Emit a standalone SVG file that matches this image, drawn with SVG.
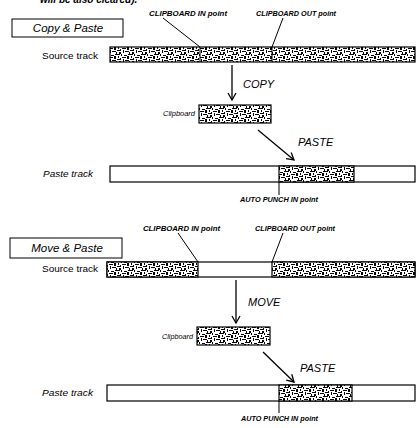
<svg xmlns="http://www.w3.org/2000/svg" width="417" height="428" viewBox="0 0 417 428">
<style>
text{font-family:"Liberation Sans",Arial,sans-serif;fill:#000}
.top{font-size:10px;font-style:italic;font-weight:bold}
.title{font-size:11.5px;font-style:italic}
.pt{font-size:7px;font-style:italic;font-weight:bold}
.lbl{font-size:9.5px}
.ilbl{font-size:9.5px;font-style:italic}
.op{font-size:11px;font-style:italic}
.clip{font-size:6.5px;font-style:italic}
.box{fill:#fff;stroke:#000;stroke-width:1}
.bar{fill:#fff;stroke:#000;stroke-width:1.2}
.hat{fill:url(#noise);stroke:#000;stroke-width:1.2}
.ln{stroke:#000;stroke-width:1;fill:none}
.arr{stroke:#000;stroke-width:1.3;fill:none;marker-end:url(#ah)}
</style>
<defs>
<pattern id="noise" width="13" height="9" patternUnits="userSpaceOnUse">
<rect width="13" height="9" fill="#fff"/>
<rect x="0" y="0" width="3" height="1" fill="#000"/>
<rect x="4" y="0" width="1" height="2" fill="#000"/>
<rect x="7" y="1" width="3" height="1" fill="#000"/>
<rect x="1" y="2" width="1" height="2" fill="#000"/>
<rect x="5" y="3" width="4" height="1" fill="#000"/>
<rect x="10" y="2" width="2" height="3" fill="#000"/>
<rect x="0" y="5" width="4" height="1" fill="#000"/>
<rect x="6" y="5" width="1" height="3" fill="#000"/>
<rect x="8" y="6" width="4" height="1" fill="#000"/>
<rect x="2" y="7" width="2" height="2" fill="#000"/>
<rect x="11" y="0" width="2" height="1" fill="#000"/>
<rect x="12" y="7" width="1" height="2" fill="#000"/>
<rect x="3" y="4" width="1" height="1" fill="#000"/>
</pattern>
<marker id="ah" markerWidth="10" markerHeight="10" refX="8" refY="5" orient="auto" markerUnits="userSpaceOnUse">
<path d="M1,1 L8,5 L1,9" fill="none" stroke="#000" stroke-width="1.3"/>
</marker>
</defs>

<text class="top" x="40" y="3">will be also cleared).</text>

<g id="copy-title"><rect class="box" x="12" y="19" width="111" height="18"/><text class="title" x="68" y="32" text-anchor="middle">Copy &amp; Paste</text></g>

<g id="copy-labels">
<text class="pt" x="149" y="16" textLength="78" lengthAdjust="spacingAndGlyphs">CLIPBOARD IN point</text>
<text class="pt" x="256" y="16" textLength="80" lengthAdjust="spacingAndGlyphs">CLIPBOARD OUT point</text>
</g>

<g id="copy-source">
<text class="lbl" x="42" y="59" textLength="56" lengthAdjust="spacingAndGlyphs">Source track</text>
<rect class="hat" x="110" y="47" width="305" height="15"/>
<line class="ln" x1="200" y1="47" x2="200" y2="62"/>
<line class="ln" x1="272" y1="47" x2="272" y2="62"/>
</g>

<g id="copy-clipboard">
<text class="clip" x="163" y="116" textLength="32" lengthAdjust="spacingAndGlyphs">Clipboard</text>
<rect class="hat" x="199" y="105" width="72" height="18"/>
</g>

<g id="copy-paste-track">
<text class="ilbl" x="43" y="177" textLength="50" lengthAdjust="spacingAndGlyphs">Paste track</text>
<rect class="bar" x="110" y="166" width="305" height="16"/>
<rect class="hat" x="279" y="166" width="75" height="16"/>
<text class="pt" x="240" y="202" textLength="78" lengthAdjust="spacingAndGlyphs">AUTO PUNCH IN point</text>
</g>

<g id="move-title"><rect class="box" x="10" y="238" width="112" height="20"/><text class="title" x="67" y="252" text-anchor="middle">Move &amp; Paste</text></g>

<g id="move-labels">
<text class="pt" x="143" y="231" textLength="77" lengthAdjust="spacingAndGlyphs">CLIPBOARD IN point</text>
<text class="pt" x="255" y="231" textLength="80" lengthAdjust="spacingAndGlyphs">CLIPBOARD OUT point</text>
</g>

<g id="move-source">
<text class="lbl" x="42" y="272" textLength="56" lengthAdjust="spacingAndGlyphs">Source track</text>
<rect class="bar" x="107" y="262" width="308" height="15"/>
<rect class="hat" x="107" y="262" width="91" height="15"/>
<rect class="hat" x="272" y="262" width="143" height="15"/>
</g>

<g id="move-clipboard">
<text class="clip" x="162" y="339" textLength="31" lengthAdjust="spacingAndGlyphs">Clipboard</text>
<rect class="hat" x="197" y="327" width="73" height="18"/>
</g>

<g id="move-paste-track">
<text class="ilbl" x="42" y="396" textLength="51" lengthAdjust="spacingAndGlyphs">Paste track</text>
<rect class="bar" x="107" y="385" width="308" height="16"/>
<rect class="hat" x="279" y="385" width="73" height="16"/>
<text class="pt" x="241" y="421" textLength="77" lengthAdjust="spacingAndGlyphs">AUTO PUNCH IN point</text>
</g>

<g id="connectors">
<line class="ln" x1="163" y1="18" x2="200" y2="47"/>
<line class="ln" x1="283" y1="18" x2="272" y2="47"/>
<line class="arr" x1="232" y1="65" x2="232" y2="100"/>
<text class="op" x="243" y="88">COPY</text>
<line class="arr" x1="258" y1="130" x2="294" y2="160"/>
<text class="op" x="298" y="146">PASTE</text>
<line class="ln" x1="279" y1="182" x2="279" y2="195"/>

<line class="ln" x1="178" y1="233" x2="198" y2="262"/>
<line class="ln" x1="283" y1="233" x2="272" y2="262"/>
<line class="arr" x1="236" y1="280" x2="236" y2="323"/>
<text class="op" x="248" y="306">MOVE</text>
<line class="arr" x1="263" y1="352" x2="294" y2="382"/>
<text class="op" x="300" y="372">PASTE</text>
<line class="ln" x1="279" y1="401" x2="279" y2="413"/>
</g>
</svg>
